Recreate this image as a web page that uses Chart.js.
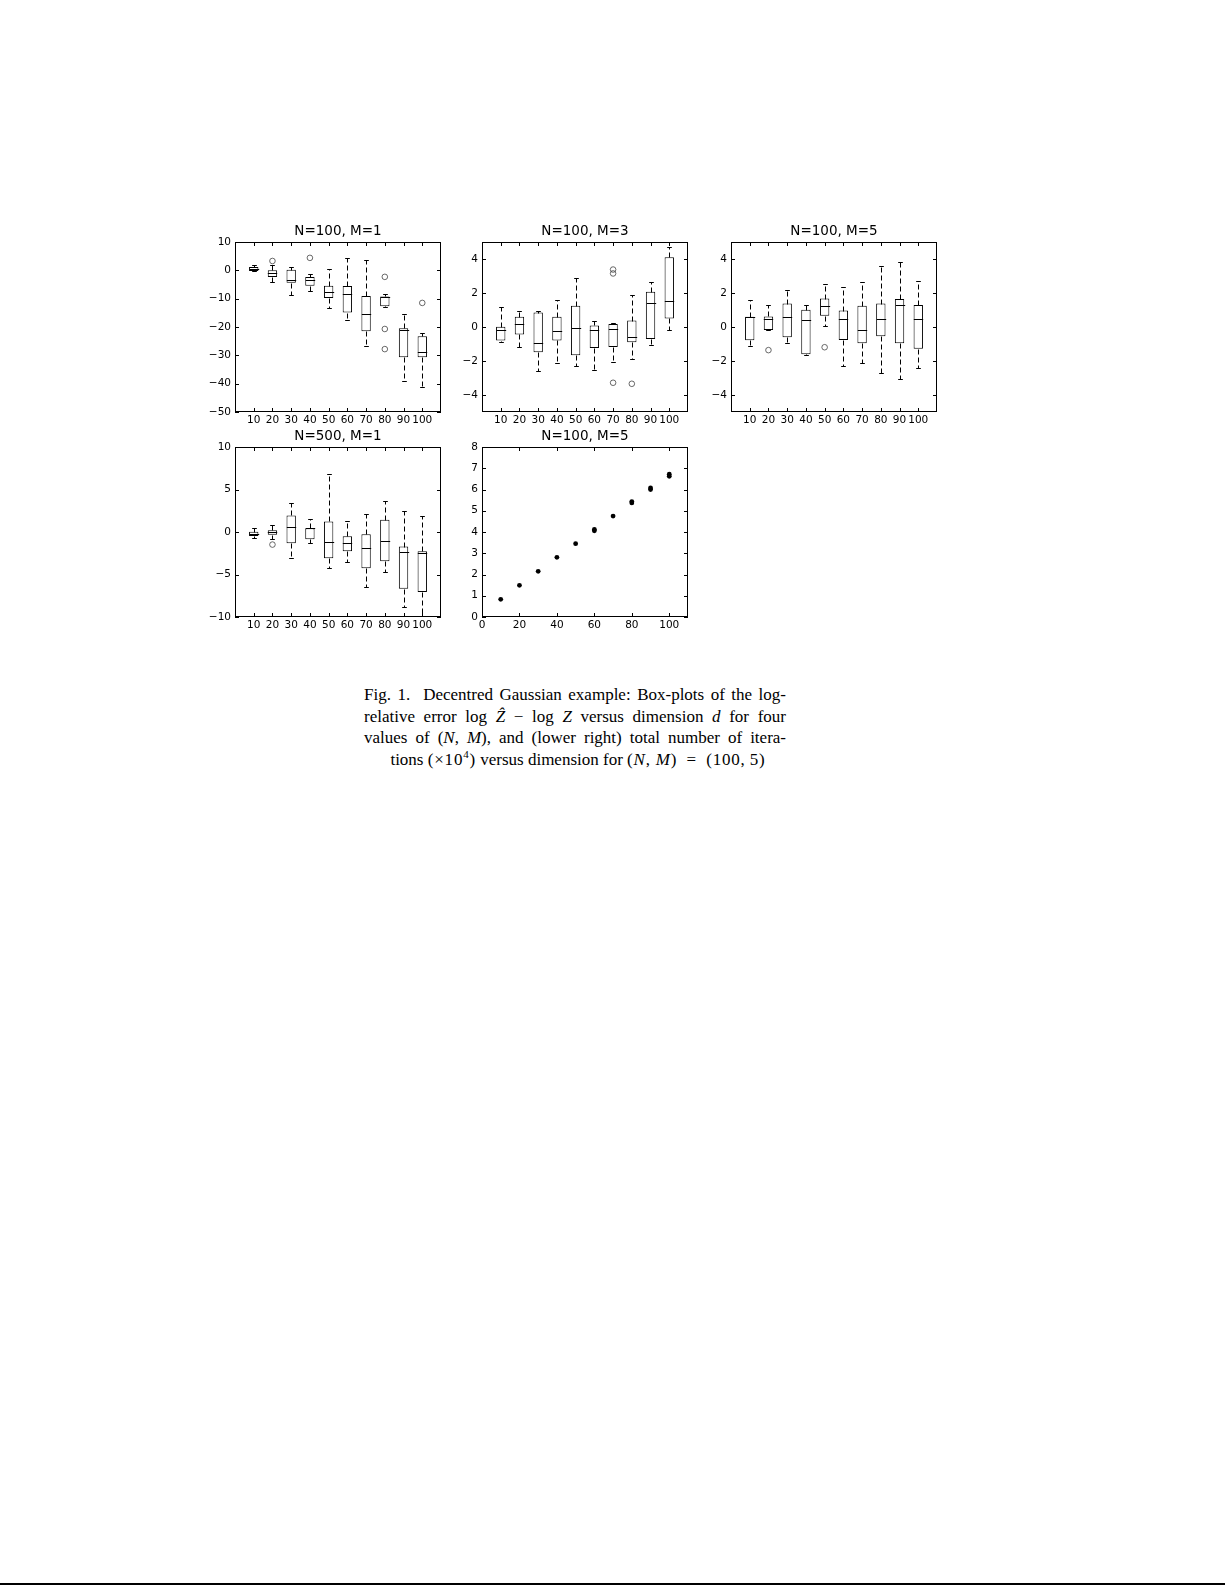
<!DOCTYPE html>
<html lang="en">
<head>
<meta charset="UTF-8">
<title>Decentred Gaussian example</title>
<script src="https://cdn.jsdelivr.net/npm/chart.js@4.4.0/dist/chart.umd.min.js"></script>
<style>
    * { margin: 0; padding: 0; box-sizing: border-box; }
    body { width: 1225px; height: 1585px; background: #fff; position: relative; overflow: hidden; }
    .panel { position: absolute; width: 254px; height: 216px; }
    .caption {
        position: absolute; left: 364px; top: 684px; width: 422px;
        font-family: 'Liberation Serif', serif; font-size: 17px; line-height: 21.7px; color: #000;
    }
    .caption .j { text-align: justify; text-align-last: justify; }
    .caption .c { text-align: center; padding-left: 6px; }
    .caption .m { letter-spacing: 0.8px; }
    .caption sup { font-size: 11px; line-height: 0; vertical-align: 7px; }
    .rule { position: absolute; left: 0; top: 1583px; width: 1225px; height: 2px; background: #000; }
</style>
</head>
<body>
    <div class="panel" style="left:195px; top:218px;"><canvas id="p1"></canvas></div>
    <div class="panel" style="left:442px; top:218px;"><canvas id="p2"></canvas></div>
    <div class="panel" style="left:691px; top:218px;"><canvas id="p3"></canvas></div>
    <div class="panel" style="left:195px; top:423px;"><canvas id="p4"></canvas></div>
    <div class="panel" style="left:442px; top:423px;"><canvas id="p5"></canvas></div>

    <div class="caption">
        <div class="j">Fig. 1.&nbsp; Decentred Gaussian example: Box-plots of the log-</div>
        <div class="j">relative error log <i>Ẑ</i> − log <i>Z</i> versus dimension <i>d</i> for four</div>
        <div class="j">values of (<i>N</i>, <i>M</i>), and (lower right) total number of itera-</div>
        <div class="c">tions <span class="m">(×10<sup>4</sup>)</span> versus dimension for <span class="m">(<i>N</i>, <i>M</i>)&ensp;=&ensp;(100,&thinsp;5)</span></div>
    </div>
    <div class="rule"></div>

<script>
// dimensions d (box plot categories)
const dims = ['10', '20', '30', '40', '50', '60', '70', '80', '90', '100'];

// N=100, M=1
const p1Q1  = [-0.2, -2.35, -4.35, -5.4, -9.8, -14.9, -21.5, -12.7, -30.7, -30.7];
const p1Med = [0.6, -0.8, -3.3, -3.3, -7.8, -8.5, -15.3, -9.5, -21.2, -28.8];
const p1Q3  = [1.2, 0.0, 0.2, -2.35, -5.4, -5.5, -9.1, -9.2, -20.4, -23.3];
const p1Lo  = [-0.4, -4.0, -8.8, -7.2, -13.2, -17.6, -26.8, -12.9, -39.2, -41.2];
const p1Hi  = [2.0, 1.8, 1.2, -1.4, 0.6, 4.4, 3.8, -8.2, -15.4, -22.0];
const p1OutX = ['20', '40', '80', '80', '80', '100'];
const p1OutY = [3.3, 4.4, -2.3, -20.7, -27.8, -11.5];
const p1Ticks = [-50, -40, -30, -20, -10, 0, 10];

// N=100, M=3
const p2Q1  = [-0.8, -0.44, -1.49, -0.79, -1.66, -1.24, -1.17, -0.9, -0.71, 0.5];
const p2Med = [-0.18, 0.2, -0.96, -0.26, -0.07, -0.18, -0.13, -0.61, 1.43, 1.51];
const p2Q3  = [0.01, 0.61, 0.85, 0.61, 1.25, 0.09, 0.18, 0.38, 2.07, 4.1];
const p2Lo  = [-0.87, -1.18, -2.6, -2.13, -2.29, -2.54, -2.07, -1.9, -1.08, -0.18];
const p2Hi  = [1.2, 0.96, 0.96, 1.59, 2.89, 0.38, 0.22, 1.88, 2.66, 4.7];
const p2OutX = ['70', '70', '70', '80'];
const p2OutY = [3.38, 3.15, -3.28, -3.34];
const p2Ticks = [-4, -2, 0, 2, 4];

// N=100, M=5
const p3Q1  = [-0.78, -0.18, -0.6, -1.61, 0.66, -0.76, -0.95, -0.54, -0.95, -1.28];
const p3Med = [0.58, 0.47, 0.56, 0.41, 1.26, 0.45, -0.19, 0.45, 1.32, 0.45];
const p3Q3  = [0.6, 0.62, 1.38, 1.01, 1.67, 0.97, 1.25, 1.38, 1.65, 1.3];
const p3Lo  = [-1.13, -0.2, -0.95, -1.65, 0.08, -2.28, -2.12, -2.7, -3.05, -2.39];
const p3Hi  = [1.56, 1.3, 2.18, 1.3, 2.55, 2.35, 2.65, 3.6, 3.81, 2.7];
const p3OutX = ['20', '50'];
const p3OutY = [-1.36, -1.19];
const p3Ticks = [-4, -2, 0, 2, 4];

// N=500, M=1
const p4Q1  = [-0.47, -0.31, -1.33, -0.86, -3.09, -2.27, -4.26, -3.44, -6.68, -7.07];
const p4Med = [-0.2, 0.04, 0.59, 0.43, -1.17, -1.29, -1.91, -1.05, -2.3, -2.46];
const p4Q3  = [0.04, 0.2, 1.95, 0.45, 1.25, -0.5, -0.27, 1.45, -1.72, -2.27];
const p4Lo  = [-0.66, -0.82, -3.09, -1.29, -4.26, -3.55, -6.48, -4.73, -8.87, -10.6];
const p4Hi  = [0.51, 0.82, 3.44, 1.48, 6.88, 1.25, 2.07, 3.59, 2.5, 1.88];
const p4OutX = ['20'];
const p4OutY = [-1.48];
const p4Ticks = [-10, -5, 0, 5, 10];

// total iterations (x 10^4) vs dimension, N=100, M=5
const iterX = [10, 20, 30, 40, 50, 60, 60, 70, 80, 80, 90, 90, 100, 100];
const iterY = [0.83, 1.49, 2.15, 2.81, 3.45, 4.06, 4.12, 4.75, 5.37, 5.43, 6.0, 6.07, 6.62, 6.72];
const p5XTicks = [0, 20, 40, 60, 80, 100];
const p5YTicks = [0, 1, 2, 3, 4, 5, 6, 7, 8];

const tickFont = { family: 'DejaVu Sans', size: 10.5 };
const minus = v => (v < 0 ? '\u2212' + Math.abs(v) : String(v));
// boxes sit at positions 1..n, axis runs 0..n+1 like the matplotlib boxplot
const boxPos = label => dims.indexOf(label) + 1;

// frame + inward ticks on all four sides (matplotlib style)
const frameTicks = {
    id: 'frameTicks',
    afterDatasetsDraw(chart) {
        const { ctx, chartArea: a, scales: { x, y } } = chart;
        ctx.save();
        ctx.strokeStyle = '#000';
        ctx.lineWidth = 1;
        ctx.setLineDash([]);
        ctx.strokeRect(a.left + 0.5, a.top + 0.5, a.right - a.left - 1, a.bottom - a.top - 1);
        ctx.beginPath();
        x.ticks.forEach((t, i) => {
            const px = Math.round(x.getPixelForTick(i)) + 0.5;
            ctx.moveTo(px, a.bottom); ctx.lineTo(px, a.bottom - 4);
            ctx.moveTo(px, a.top); ctx.lineTo(px, a.top + 4);
        });
        y.ticks.forEach((t, i) => {
            const py = Math.round(y.getPixelForTick(i)) + 0.5;
            ctx.moveTo(a.left, py); ctx.lineTo(a.left + 4, py);
            ctx.moveTo(a.right, py); ctx.lineTo(a.right - 4, py);
        });
        ctx.stroke();
        ctx.restore();
    }
};

// medians, dashed whiskers and caps, placed from the bar elements and y scale
function boxParts(q1, med, q3, lo, hi) {
    return {
        id: 'boxParts',
        afterDatasetsDraw(chart) {
            const { ctx, chartArea: a, scales: { y } } = chart;
            const bars = chart.getDatasetMeta(0).data;
            const py = v => Math.round(y.getPixelForValue(v)) + 0.5;
            ctx.save();
            ctx.beginPath();
            ctx.rect(a.left, a.top, a.right - a.left, a.bottom - a.top);
            ctx.clip();
            ctx.strokeStyle = '#000';
            ctx.lineWidth = 1;
            bars.forEach((bar, i) => {
                const cx = Math.round(bar.x) + 0.5;
                const w = bar.width;
                ctx.setLineDash([5, 3]);
                ctx.beginPath();
                ctx.moveTo(cx, py(q3[i])); ctx.lineTo(cx, py(hi[i]));
                ctx.moveTo(cx, py(q1[i])); ctx.lineTo(cx, py(lo[i]));
                ctx.stroke();
                ctx.setLineDash([]);
                ctx.beginPath();
                ctx.moveTo(cx - w / 2, py(med[i])); ctx.lineTo(cx + w / 2, py(med[i]));
                ctx.moveTo(cx - w / 4, py(hi[i])); ctx.lineTo(cx + w / 4, py(hi[i]));
                ctx.moveTo(cx - w / 4, py(lo[i])); ctx.lineTo(cx + w / 4, py(lo[i]));
                ctx.stroke();
            });
            ctx.restore();
        }
    };
}

function titleOpts(text) {
    return {
        display: true, text: text, color: '#000', fullSize: false,
        font: { family: 'DejaVu Sans', size: 13.5, weight: 'normal' },
        padding: { top: 5.5, bottom: 2.3 }
    };
}

function yScale(min, max, ticks) {
    return {
        type: 'linear', min: min, max: max,
        grid: { display: false, drawTicks: false },
        border: { display: false },
        ticks: { color: '#000', font: tickFont, padding: 4, callback: v => minus(v) },
        afterBuildTicks: s => { s.ticks = ticks.map(v => ({ value: v })); },
        afterFit: s => { s.width = 40; }
    };
}

function boxChart(id, title, q1, med, q3, lo, hi, outX, outY, yMin, yMax, yTicks) {
    return new Chart(document.getElementById(id), {
        type: 'bar',
        data: {
            datasets: [
                {
                    data: dims.map((d, i) => ({ x: boxPos(d), y: [q1[i], q3[i]] })),
                    backgroundColor: '#fff',
                    borderColor: '#000',
                    borderWidth: 1,
                    borderSkipped: false,
                    barPercentage: 0.5,
                    categoryPercentage: 1
                },
                {
                    type: 'line',
                    showLine: false,
                    data: outX.map((d, i) => ({ x: boxPos(d), y: outY[i] })),
                    pointStyle: 'circle',
                    pointRadius: 2.8,
                    pointBorderWidth: 0.8,
                    pointBorderColor: '#444',
                    pointBackgroundColor: 'rgba(0,0,0,0)'
                }
            ]
        },
        options: {
            responsive: true,
            maintainAspectRatio: false,
            animation: false,
            layout: { padding: { left: 0, right: 8, top: 0, bottom: 0 } },
            plugins: {
                legend: { display: false },
                tooltip: { enabled: false },
                title: titleOpts(title)
            },
            scales: {
                x: {
                    type: 'linear', min: 0, max: dims.length + 1,
                    offset: false,
                    grid: { display: false, drawTicks: false, offset: false },
                    border: { display: false },
                    ticks: {
                        color: '#000', font: tickFont, padding: 2, autoSkip: false, maxRotation: 0, minRotation: 0,
                        callback: v => dims[v - 1]
                    },
                    afterBuildTicks: s => { s.ticks = dims.map(d => ({ value: boxPos(d) })); },
                    afterFit: s => { s.height = 22; }
                },
                y: yScale(yMin, yMax, yTicks)
            }
        },
        plugins: [boxParts(q1, med, q3, lo, hi), frameTicks]
    });
}

boxChart('p1', 'N=100, M=1', p1Q1, p1Med, p1Q3, p1Lo, p1Hi, p1OutX, p1OutY, -50, 10, p1Ticks);
boxChart('p2', 'N=100, M=3', p2Q1, p2Med, p2Q3, p2Lo, p2Hi, p2OutX, p2OutY, -5, 5, p2Ticks);
boxChart('p3', 'N=100, M=5', p3Q1, p3Med, p3Q3, p3Lo, p3Hi, p3OutX, p3OutY, -5, 5, p3Ticks);
boxChart('p4', 'N=500, M=1', p4Q1, p4Med, p4Q3, p4Lo, p4Hi, p4OutX, p4OutY, -10, 10, p4Ticks);

new Chart(document.getElementById('p5'), {
    type: 'scatter',
    data: {
        datasets: [{
            data: iterX.map((d, i) => ({ x: d, y: iterY[i] })),
            pointStyle: 'circle',
            pointRadius: 2.4,
            pointBorderWidth: 0,
            pointBackgroundColor: '#000'
        }]
    },
    options: {
        responsive: true,
        maintainAspectRatio: false,
        animation: false,
        layout: { padding: { left: 0, right: 8, top: 0, bottom: 0 } },
        plugins: {
            legend: { display: false },
            tooltip: { enabled: false },
            title: titleOpts('N=100, M=5')
        },
        scales: {
            x: {
                type: 'linear', min: 0, max: 110,
                grid: { display: false, drawTicks: false },
                border: { display: false },
                ticks: { color: '#000', font: tickFont, padding: 2, maxRotation: 0 },
                afterBuildTicks: s => { s.ticks = p5XTicks.map(v => ({ value: v })); },
                afterFit: s => { s.height = 22; }
            },
            y: yScale(0, 8, p5YTicks)
        }
    },
    plugins: [frameTicks]
});
</script>
</body>
</html>
